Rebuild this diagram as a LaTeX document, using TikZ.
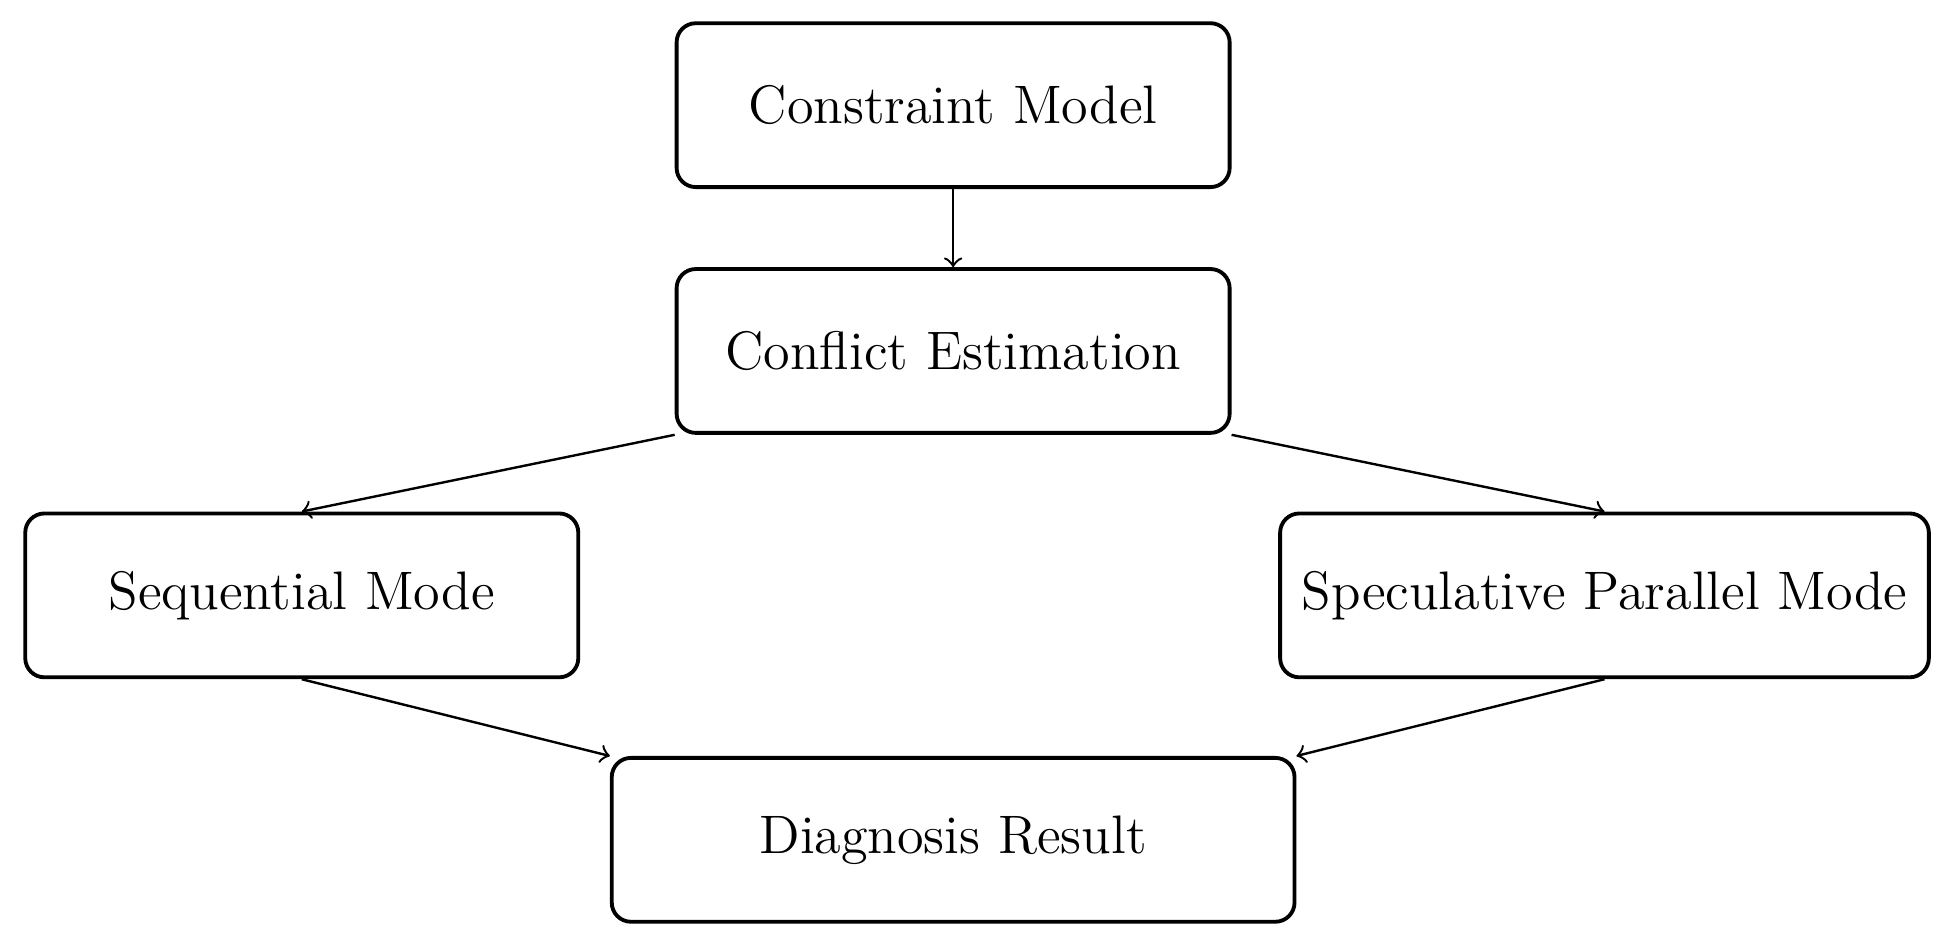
\documentclass[tikz,border=0pt]{standalone}
\usepackage{amsmath, amssymb}
\usepackage{tikz}

\begin{document}
\begin{tikzpicture}[
  block/.style={draw, thick, rounded corners, minimum width=4.05cm,
    minimum height=1.2cm, inner sep=4.5pt, font=\fontsize{11.3}{14}\selectfont}
]
\useasboundingbox (-6.98,-6.18) rectangle (7.30,0.77);

\path
 (0,0)         node [block] (model)    {Constraint Model}
 (0,-1.8)      node [block] (conflict) {Conflict Estimation}
 (-4.77,-3.59) node [block] (seq)      {Sequential Mode}
 (4.77,-3.59)  node [block] (spec)     {Speculative Parallel Mode}
 (0,-5.38)     node [block, minimum width=5cm] (result) {Diagnosis Result}
;

\draw[->, line width=0.5pt] (model) -- (conflict);
\draw[->, line width=0.5pt] (conflict.south west) -- (seq.north);
\draw[->, line width=0.5pt] (conflict.south east) -- (spec.north);
\draw[->, line width=0.5pt] (seq.south) -- (result.north west);
\draw[->, line width=0.5pt] (spec.south) -- (result.north east);
\end{tikzpicture}
\end{document}
